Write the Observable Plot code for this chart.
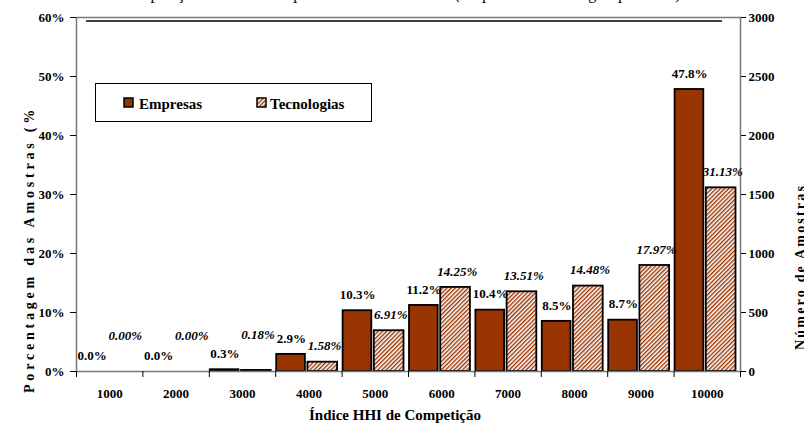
<!DOCTYPE html>
<html><head><meta charset="utf-8">
<script src="https://cdn.jsdelivr.net/npm/d3@7"></script>
<script src="https://cdn.jsdelivr.net/npm/@observablehq/plot@0.6"></script>
<style>
body{margin:0;background:#fff;}
#chart{position:relative;width:804px;height:426px;overflow:hidden;background:#fff;}
#chart text{font-family:"Liberation Serif","Tinos","DejaVu Serif","Noto Serif","Times New Roman",serif;}
</style></head><body><div id="chart"></div>
<script>
const categories = [1000, 2000, 3000, 4000, 5000, 6000, 7000, 8000, 9000, 10000];
const empresas = [0.0, 0.0, 0.3, 2.9, 10.3, 11.2, 10.4, 8.5, 8.7, 47.8];
const tecnologias = [0.00, 0.00, 0.18, 1.58, 6.91, 14.25, 13.51, 14.48, 17.97, 31.13];
const leftTicks = [0, 10, 20, 30, 40, 50, 60];
const rightTickLabels = ["0", "500", "1000", "1500", "2000", "2500", "3000"];
const seriesNames = ["Empresas", "Tecnologias"];
const chartTitle = "Composição das Amostras por Faixa do Índice HHI (Empresas e Tecnologias por faixa)";
const xTitle = "Índice HHI de Competição";
const yTitleLeft = "Porcentagem das Amostras (%";
const yTitleRight = "Número de Amostras";

const serif = "Liberation Serif, Tinos, DejaVu Serif, Noto Serif, Times New Roman, serif";
const brown = "#993300";
const halfStep = (categories[1] - categories[0]) / 2;

const emp = categories.map((c, i) => ({c, v: empresas[i]}));
const tec = categories.map((c, i) => ({c, v: tecnologias[i]}));
const boundaries = categories.map(c => c - halfStep).concat([categories[categories.length - 1] + halfStep]);

const svg = Plot.plot({
  width: 804, height: 426,
  marginLeft: 76, marginRight: 64, marginTop: 17, marginBottom: 55,
  x: {domain: [boundaries[0], boundaries[boundaries.length - 1]], axis: null},
  y: {domain: [0, 60], axis: null},
  style: {fontFamily: serif, fontSize: "13px", fontWeight: "bold", background: "white", color: "black"},
  marks: [
    Plot.rect(emp.filter(d => d.v > 0), {
      x1: d => d.c - halfStep, x2: d => d.c, y1: d => 0, y2: "v",
      fill: brown, stroke: "black", strokeWidth: 1.8, insetLeft: 1, insetRight: 3.5
    }),
    Plot.rect(tec.filter(d => d.v > 0), {
      x1: d => d.c, x2: d => d.c + halfStep, y1: d => 0, y2: "v",
      fill: "url(#hatchTec)", stroke: "black", strokeWidth: 1.8, insetLeft: -1, insetRight: 4.5
    }),
    Plot.frame({stroke: "#777", strokeWidth: 1.5}),
    Plot.ruleY([60], {dy: 3.5, insetLeft: 10, insetRight: 18, stroke: "black", strokeWidth: 1.5}),
    Plot.axisY({anchor: "left", ticks: leftTicks, tickFormat: d => d + "%", tickSize: 6, tickPadding: 6, label: null}),
    Plot.axisY({anchor: "right", ticks: leftTicks, tickFormat: d => rightTickLabels[leftTicks.indexOf(d)], tickSize: 5, tickPadding: 3, label: null}),
    Plot.axisX({ticks: boundaries, tickFormat: () => "", tickSize: 6, label: null}),
    Plot.axisX({ticks: categories, tickFormat: d => String(d), tickSize: 0, tickPadding: 17, label: null}),
    Plot.text(emp, {
      x: d => d.c - halfStep / 2, y: "v", text: d => d.v.toFixed(1) + "%",
      dy: -16, dx: -1, fontSize: 13, fontWeight: "bold", fontFamily: serif, fill: "black"
    }),
    Plot.text(tec.filter(d => d.v >= 1), {
      x: d => d.c + halfStep / 2, y: "v", text: d => d.v.toFixed(2) + "%",
      dy: -16, dx: -1, fontSize: 13, fontWeight: "bold", fontStyle: "italic", fontFamily: serif, fill: "black"
    }),
    Plot.text(tec.filter(d => d.v < 1), {
      x: d => d.c + halfStep / 2, y: "v", text: d => d.v.toFixed(2) + "%",
      dy: -36, dx: -1, fontSize: 13, fontWeight: "bold", fontStyle: "italic", fontFamily: serif, fill: "black"
    })
  ]
});

const s = d3.select(svg);
const defs = s.insert("defs", ":first-child");
const pat = defs.append("pattern").attr("id", "hatchTec")
  .attr("patternUnits", "userSpaceOnUse").attr("width", 3).attr("height", 3)
  .attr("patternTransform", "rotate(45)");
pat.append("rect").attr("width", 3).attr("height", 3).attr("fill", "white");
pat.append("rect").attr("width", 1.4).attr("height", 3).attr("fill", brown);

function txt(g, x, y, size, weight, str, anchor, extra) {
  const t = g.append("text").attr("x", x).attr("y", y)
    .attr("text-anchor", anchor || "start")
    .attr("font-family", serif).attr("font-size", size).attr("font-weight", weight)
    .attr("fill", "black").text(str);
  if (extra) extra(t);
  return t;
}

// chart title (clipped at top)
txt(s, 400, -1, 16, "normal", chartTitle, "middle");

// axis titles
txt(s, 395, 420, 15, "bold", xTitle, "middle");
txt(s, 0, 0, 14, "bold", yTitleLeft, "start", t => t.attr("transform", "translate(34,393) rotate(-90)").attr("letter-spacing", 3.8));
txt(s, 0, 0, 14, "bold", yTitleRight, "start", t => t.attr("transform", "translate(805,350) rotate(-90)").attr("letter-spacing", 2.2));

// legend
const lg = s.append("g");
lg.append("rect").attr("x", 95.5).attr("y", 83.5).attr("width", 276).attr("height", 38)
  .attr("fill", "white").attr("stroke", "black").attr("stroke-width", 1);
const swX = [124, 257], txX = [139, 270], fills = [brown, "url(#hatchTec)"];
seriesNames.forEach((n, i) => {
  lg.append("rect").attr("x", swX[i]).attr("y", 98).attr("width", 9).attr("height", 9)
    .attr("fill", fills[i]).attr("stroke", "black").attr("stroke-width", 1.5);
  txt(lg, txX[i], 108.5, 15, "bold", n, "start");
});

document.getElementById("chart").appendChild(svg);
</script>
</body></html>
